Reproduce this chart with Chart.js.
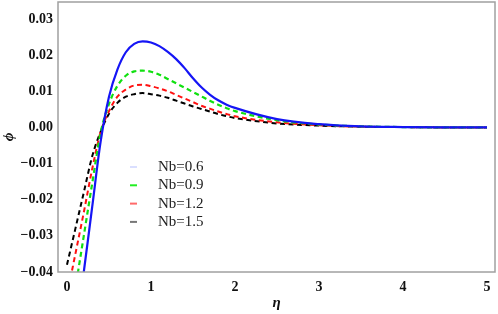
<!DOCTYPE html>
<html>
<head>
<meta charset="utf-8">
<script src="https://cdn.jsdelivr.net/npm/chart.js@4.4.1/dist/chart.umd.min.js"></script>
<style>
  html, body { margin: 0; padding: 0; background: #fff; }
  #wrap { width: 498px; height: 314px; }
</style>
</head>
<body>
<div id="wrap"><canvas id="phiChart" width="498" height="314"></canvas></div>
<script>
const eta = [0, 0.1, 0.2, 0.3, 0.4, 0.5, 0.6, 0.7, 0.8, 0.9, 1.0, 1.1, 1.2, 1.3, 1.4, 1.5, 1.6, 1.7, 1.8, 1.9, 2.0, 2.5, 3.0, 3.5, 4.0, 4.5, 5.0];

const phiNb06 = [-0.075, -0.057, -0.040, -0.022, -0.004, 0.0085, 0.0160, 0.0208, 0.0231, 0.0238, 0.0235, 0.0225, 0.0209, 0.0189, 0.0164, 0.0136, 0.0111, 0.0091, 0.0075, 0.0063, 0.0054, 0.0023, 0.0009, 0.0003, 0.0001, 0.0000, 0.0000];
const phiNb09 = [-0.059, -0.0445, -0.030, -0.0155, -0.0015, 0.0065, 0.0115, 0.0143, 0.0155, 0.0157, 0.0154, 0.0146, 0.0134, 0.0122, 0.0110, 0.0098, 0.0086, 0.0074, 0.0063, 0.0053, 0.0045, 0.0020, 0.0008, 0.0003, 0.0001, 0.0000, 0.0000];
const phiNb12 = [-0.0465, -0.035, -0.0235, -0.0115, -0.0013, 0.0045, 0.0085, 0.0105, 0.0116, 0.0118, 0.0114, 0.0108, 0.0100, 0.0090, 0.0080, 0.0070, 0.0060, 0.0052, 0.0044, 0.0037, 0.0031, 0.0014, 0.0006, 0.0002, 0.0001, 0.0000, 0.0000];
const phiNb15 = [-0.038, -0.028, -0.018, -0.008, -0.0012, 0.0038, 0.0068, 0.0085, 0.0092, 0.0095, 0.0092, 0.0088, 0.0082, 0.0074, 0.0066, 0.0058, 0.0051, 0.0044, 0.0037, 0.0031, 0.0026, 0.0011, 0.0005, 0.0002, 0.0001, 0.0000, 0.0000];

const seriesLabels = ["Nb=0.6", "Nb=0.9", "Nb=1.2", "Nb=1.5"];
const xTicks = [0, 1, 2, 3, 4, 5];
const yTicks = [-0.04, -0.03, -0.02, -0.01, 0.00, 0.01, 0.02, 0.03];

const serif = "'Liberation Serif', 'DejaVu Serif', serif";

function pts(values) {
  return eta.map((e, i) => ({ x: e, y: values[i] }));
}

function series(label, values, color, dash, width) {
  return {
    label: label,
    data: pts(values),
    borderColor: color,
    borderWidth: width,
    borderDash: dash,
    pointRadius: 0,
    fill: false,
    cubicInterpolationMode: "monotone",
  };
}

// frame round the plot, like the Mathematica frame
const framePlugin = {
  id: "frame",
  afterDatasetsDraw(chart) {
    const a = chart.chartArea;
    const ctx = chart.ctx;
    ctx.save();
    ctx.strokeStyle = "#a0a0a0";
    ctx.lineWidth = 1.5;
    ctx.strokeRect(a.left, a.top, a.right - a.left, a.bottom - a.top);
    ctx.restore();
  },
};

// legend drawn inside the plot
const legendPlugin = {
  id: "innerLegend",
  afterDraw(chart) {
    const ctx = chart.ctx;
    const sampleColors = ["rgba(90,110,255,0.45)", "#22ee22", "#ff6a6a", "#777777"];
    const sampleWidths = [1, 2, 2, 2];
    ctx.save();
    ctx.font = "15px " + serif;
    ctx.textBaseline = "middle";
    ctx.fillStyle = "#222";
    chart.data.datasets.forEach((ds, i) => {
      const y = 167 + i * 18.3;
      ctx.strokeStyle = sampleColors[i];
      ctx.lineWidth = sampleWidths[i];
      ctx.beginPath();
      ctx.moveTo(130, y);
      ctx.lineTo(137, y);
      ctx.stroke();
      ctx.fillText(ds.label, 158, y);
    });
    ctx.restore();
  },
};

const phiChart = new Chart(document.getElementById("phiChart"), {
  type: "line",
  data: {
    datasets: [
      series(seriesLabels[0], phiNb06, "#1515f5", [], 2.2),
      series(seriesLabels[1], phiNb09, "#10e010", [5, 3.5], 2.2),
      series(seriesLabels[2], phiNb12, "#ff1010", [5, 3.5], 2),
      series(seriesLabels[3], phiNb15, "#000000", [5, 3.5], 2),
    ],
  },
  options: {
    responsive: false,
    animation: false,
    layout: { padding: { top: 2, right: 3, left: 0, bottom: 0 } },
    plugins: { legend: { display: false }, tooltip: { enabled: false } },
    scales: {
      x: {
        type: "linear",
        min: -0.107,
        max: 5.095,
        afterBuildTicks(axis) {
          axis.ticks = xTicks.map((v) => ({ value: v }));
        },
        afterFit(axis) {
          axis.height = 42;
          axis.paddingLeft = 0;
          axis.paddingRight = 0;
        },
        grid: { display: false, drawTicks: false },
        border: { display: false },
        ticks: {
          color: "#111",
          padding: 7,
          font: { family: serif, size: 14, weight: "bold" },
          callback: (v) => String(v),
        },
        title: {
          display: true,
          text: "η",
          color: "#111",
          padding: { top: 0, bottom: 2 },
          font: { family: serif, size: 15, weight: "bold", style: "italic" },
        },
      },
      y: {
        type: "linear",
        min: -0.04,
        max: 0.0347,
        afterBuildTicks(axis) {
          axis.ticks = yTicks.map((v) => ({ value: v }));
        },
        afterFit(axis) {
          axis.width = 58;
          axis.paddingTop = 0;
          axis.paddingBottom = 0;
        },
        grid: { display: false, drawTicks: false },
        border: { display: false },
        ticks: {
          color: "#111",
          padding: 5,
          font: { family: serif, size: 14, weight: "bold" },
          callback: (v) => {
            const s = Math.abs(v).toFixed(2);
            return v < -1e-9 ? "\u2212" + s : s;
          },
        },
        title: {
          display: true,
          text: "ϕ",
          color: "#111",
          padding: { top: 0, bottom: 0 },
          font: { family: serif, size: 15, weight: "bold", style: "italic" },
        },
      },
    },
  },
  plugins: [framePlugin, legendPlugin],
});
</script>
</body>
</html>
